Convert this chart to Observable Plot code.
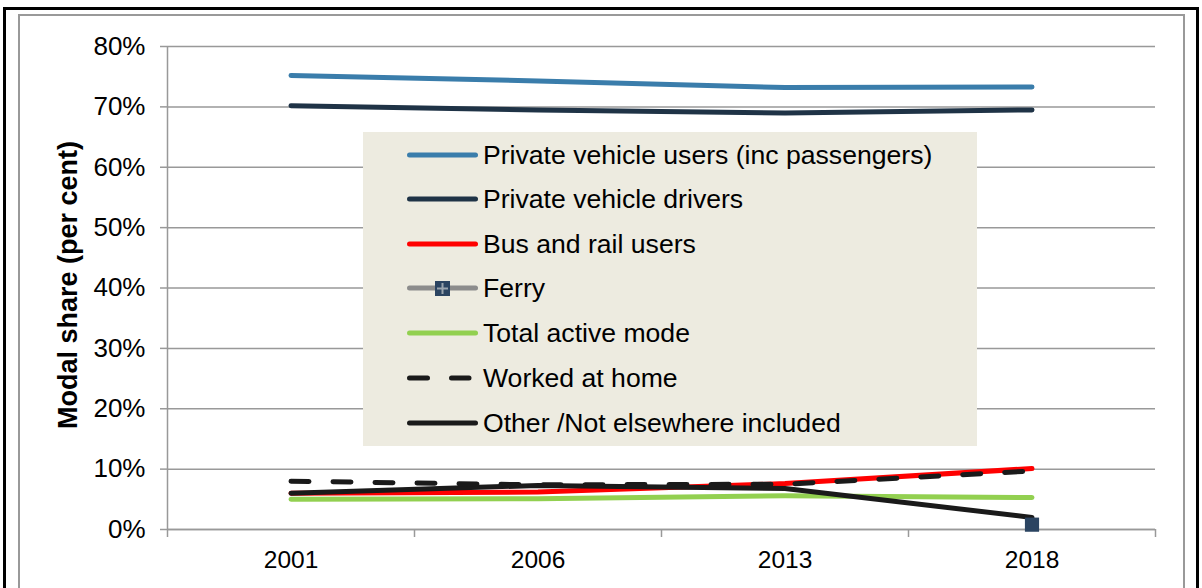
<!DOCTYPE html>
<html>
<head>
<meta charset="utf-8">
<script src="https://cdn.jsdelivr.net/npm/d3@7"></script>
<script src="https://cdn.jsdelivr.net/npm/@observablehq/plot@0.6"></script>
<style>
  html, body { margin: 0; padding: 0; background: #fff; }
  body { width: 1202px; height: 588px; position: relative; overflow: hidden; font-family: "Liberation Sans", Arial, sans-serif; }
  #outer { position: absolute; left: 3px; top: 7px; width: 1196px; height: 600px; border: 3px solid #000; box-sizing: border-box; border-bottom: none; }
  #inner { position: absolute; left: 18px; top: 14px; width: 1167px; height: 600px; border: 2px solid #999; box-sizing: border-box; border-bottom: none; }
  #chart { position: absolute; left: 0; top: 0; }
  #legend { position: absolute; left: 363px; top: 132px; width: 614px; height: 314px; background: #EDEBE0; }
  .item { position: absolute; left: 0; height: 30px; }
  .item svg { position: absolute; left: 40px; top: 0; }
  .item span { position: absolute; left: 120px; white-space: nowrap; font-size: 26.6px; color: #000; line-height: 30px; top: 0; }
</style>
</head>
<body>
<div id="outer"></div>
<div id="inner"></div>
<div id="chart"></div>
<div id="legend"></div>
<script>
// ---- data ----
const years = ["2001", "2006", "2013", "2018"];
const yTicks = [0, 10, 20, 30, 40, 50, 60, 70, 80];
const seriesNames = [
  "Private vehicle users (inc passengers)",
  "Private vehicle drivers",
  "Bus and rail users",
  "Ferry",
  "Total active mode",
  "Worked at home",
  "Other /Not elsewhere included"
];
const privateUsers   = [75.2, 74.3, 73.2, 73.3];
const privateDrivers = [70.2, 69.5, 69.0, 69.5];
const busRail        = [6.0, 6.2, 7.6, 10.1];
const ferry          = [null, null, null, 0.8];
const activeMode     = [5.0, 5.1, 5.6, 5.3];
const workedAtHome   = [8.0, 7.4, 7.5, 9.7];
const otherNei       = [6.0, 7.3, 6.8, 2.0];
const yLabel = "Modal share (per cent)";

// ---- styles ----
const styles = [
  {stroke: "#3A7DAB"},
  {stroke: "#1F3346"},
  {stroke: "#FF0000"},
  {stroke: "#8C8C8C", marker: true},
  {stroke: "#92D050"},
  {stroke: "#1A1A1A", dash: "18 24"},
  {stroke: "#1A1A1A"}
];
const valuesList = [privateUsers, privateDrivers, busRail, ferry, activeMode, workedAtHome, otherNei];
const drawOrder = [0, 1, 4, 2, 6, 5, 3];

const toRows = (vals) => vals.map((v, i) => ({i, year: years[i], v}));

const marks = [
  Plot.gridY(yTicks, {stroke: "#999", strokeOpacity: 1, strokeWidth: 1.5}),
  Plot.ruleX([-0.5], {stroke: "#999", strokeWidth: 1.5}),
  Plot.ruleY([0], {stroke: "#999", strokeWidth: 1.5}),
  Plot.axisY({ticks: yTicks, tickSize: 7, tickPadding: 15, tickFormat: d => d + "%", fontSize: 26, stroke: "#999", strokeWidth: 1.5, label: null, color: "#000"}),
  Plot.axisX({ticks: [-0.5, 0.5, 1.5, 2.5, 3.5], tickSize: 8, tickFormat: () => "", stroke: "#999", strokeWidth: 1.5, label: null}),
  Plot.axisX({ticks: [0, 1, 2, 3], tickSize: 0, tickPadding: 21, tickFormat: i => years[i], fontSize: 24.5, label: null}),
  Plot.text([yLabel], {frameAnchor: "left", textAnchor: "middle", rotate: -90, dx: -99, dy: -3, fontWeight: "bold", fontSize: 27, fill: "#000"})
];

for (const k of drawOrder) {
  const st = styles[k];
  const rows = toRows(valuesList[k]);
  marks.push(Plot.line(rows, {
    x: "i", y: "v", stroke: st.stroke, strokeWidth: 5,
    strokeLinecap: "round", strokeLinejoin: "round",
    strokeDasharray: st.dash || null
  }));
  if (st.marker) {
    const pts = rows.filter(d => d.v != null);
    marks.push(Plot.dot(pts, {x: "i", y: "v", symbol: "square", r: 8, fill: "#2B4461", stroke: "none"}));
    marks.push(Plot.dot(pts, {x: "i", y: "v", symbol: "plus", r: 6, fill: "#9AA4AE", stroke: "none"}));
  }
}

const chart = Plot.plot({
  width: 1202,
  height: 588,
  marginLeft: 167,
  marginRight: 47,
  marginTop: 46,
  marginBottom: 59,
  style: {fontFamily: "'Liberation Sans', Arial, sans-serif", background: "transparent", overflow: "visible"},
  x: {type: "linear", domain: [-0.5, 3.5], axis: null},
  y: {domain: [0, 80], axis: null},
  marks
});
document.getElementById("chart").appendChild(chart);

// ---- legend ----
const legend = document.getElementById("legend");
const rowCenters = [23, 67, 111.5, 156, 201, 246, 290.5];
seriesNames.forEach((name, k) => {
  const st = styles[k];
  const item = document.createElement("div");
  item.className = "item";
  item.style.top = (rowCenters[k] - 15) + "px";
  let sw = `<svg width="76" height="30" viewBox="0 0 76 30">`;
  if (st.dash) {
    sw += `<line x1="6.5" y1="15" x2="66" y2="15" stroke="${st.stroke}" stroke-width="5" stroke-linecap="round" stroke-dasharray="18 24"/>`;
  } else {
    sw += `<line x1="6.5" y1="15" x2="72.5" y2="15" stroke="${st.stroke}" stroke-width="5" stroke-linecap="round"/>`;
  }
  if (st.marker) {
    sw += `<rect x="32" y="8" width="15" height="15" fill="#2B4461"/>`;
    sw += `<rect x="38.5" y="10" width="2" height="11" fill="#9AA4AE"/><rect x="34" y="14.5" width="11" height="2" fill="#9AA4AE"/>`;
  }
  sw += `</svg>`;
  item.innerHTML = sw + `<span>${name}</span>`;
  legend.appendChild(item);
});
</script>
</body>
</html>
